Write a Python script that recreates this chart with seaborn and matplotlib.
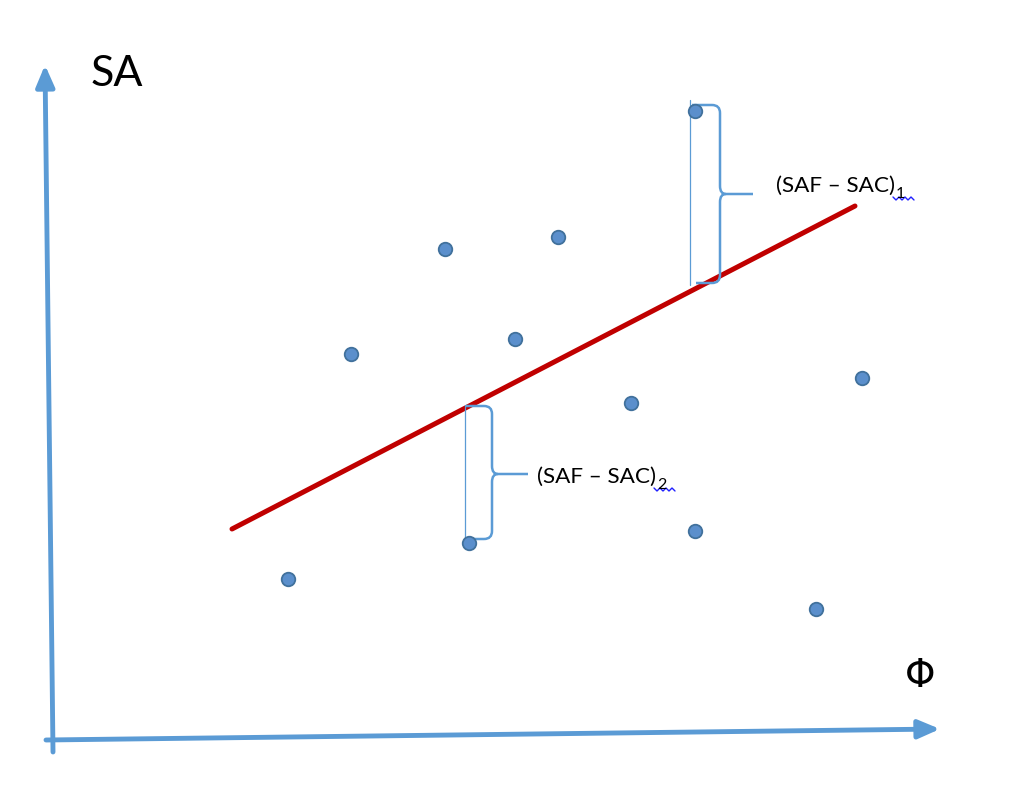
import numpy as np
import pandas as pd
import matplotlib.pyplot as plt
import seaborn as sns
from matplotlib.path import Path
from matplotlib.patches import PathPatch

# Data (in picture units: x to the right, y downwards)
phi = [288, 351, 445, 469, 515, 558, 631, 695, 695, 816, 862]
sa = [579, 354, 249, 543, 339, 237, 403, 111, 531, 609, 378]

fit_x = [232, 855]
fit_y = [529, 206]

labels = ["(SAF – SAC)", "(SAF – SAC)"]
subs = ["1", "2"]

AXIS_BLUE = "#5b9bd5"
POINT_FACE = "#5b8fcc"
POINT_EDGE = "#41719c"
RED = "#c00000"

sns.set_style("white")
plt.rcParams["font.family"] = ["Lato", "DejaVu Sans"]
plt.rcParams["text.color"] = "black"

fig = plt.figure(figsize=(10.13, 7.93), dpi=100)
ax = fig.add_axes([0, 0, 1, 1])
ax.set_xlim(0, 1013)
ax.set_ylim(793, 0)
ax.axis("off")

# axes with arrows
arrow = dict(arrowstyle="-|>,head_length=0.65,head_width=0.28", lw=3.5,
             color=AXIS_BLUE, mutation_scale=20, shrinkA=0, shrinkB=0)
ax.annotate("", xy=(45, 65), xytext=(53, 752), arrowprops=arrow)
ax.annotate("", xy=(940, 729), xytext=(46, 740), arrowprops=arrow)

ax.text(117, 74, "SA", fontsize=31, ha="center", va="center")
ax.text(920, 676, "Φ", fontsize=28, ha="center", va="center",
        family=["DejaVu Sans"])

# fitted line
sns.lineplot(x=fit_x, y=fit_y, ax=ax, color=RED, lw=3.6, sort=False)

# data points
df = pd.DataFrame({"phi": phi, "sa": sa})
sns.scatterplot(data=df, x="phi", y="sa", ax=ax, s=95, color=POINT_FACE,
                edgecolor=POINT_EDGE, linewidth=1.3, zorder=5)


def brace(x0, x1, y_top, y_bot, tip_x, tip_y):
    r = 8
    verts = [
        (x0, y_top), (x1 - r, y_top), (x1, y_top), (x1, y_top + r),
        (x1, tip_y - r), (x1, tip_y), (x1 + 6, tip_y),
        (tip_x, tip_y),
    ]
    codes = [Path.MOVETO, Path.LINETO, Path.CURVE3, Path.CURVE3,
             Path.LINETO, Path.CURVE3, Path.CURVE3, Path.LINETO]
    top = Path(verts, codes)
    verts2 = [
        (x1 + 6, tip_y), (x1, tip_y), (x1, tip_y + r),
        (x1, y_bot - r), (x1, y_bot), (x1 - r, y_bot),
        (x0 + 4, y_bot),
    ]
    codes2 = [Path.MOVETO, Path.CURVE3, Path.CURVE3, Path.LINETO,
              Path.CURVE3, Path.CURVE3, Path.LINETO]
    bot = Path(verts2, codes2)
    for p in (top, bot):
        ax.add_patch(PathPatch(p, fill=False, edgecolor=AXIS_BLUE, lw=1.8,
                               zorder=4))


# bracket 1
ax.plot([690, 690], [100, 285], color=AXIS_BLUE, lw=0.9, zorder=3)
brace(692, 720, 105, 283, 753, 194)
# bracket 2
ax.plot([465, 465], [405, 543], color=AXIS_BLUE, lw=0.9, zorder=3)
brace(466, 492, 406, 539, 528, 474)

label_pos = [(776, 186), (537, 477)]
for (lx, ly), lab, sub in zip(label_pos, labels, subs):
    t = ax.text(lx, ly, lab, fontsize=16.2, ha="left", va="center")
    fig.canvas.draw()
    bb = t.get_window_extent()
    inv = ax.transData.inverted()
    right = inv.transform((bb.x1, bb.y0))[0]
    ax.text(right + 1, ly + 8, sub, fontsize=11.5, ha="left", va="center")
    # spell-check squiggle
    sx = np.array([0, 3, 6, 9, 12, 15, 18, 21]) + right - 2
    sy = np.array([0, 3, 0, 3, 0, 3, 0, 3]) + ly + 11
    ax.plot(sx, sy, color="#2020ff", lw=1)

fig.savefig("out.png", dpi=100)
